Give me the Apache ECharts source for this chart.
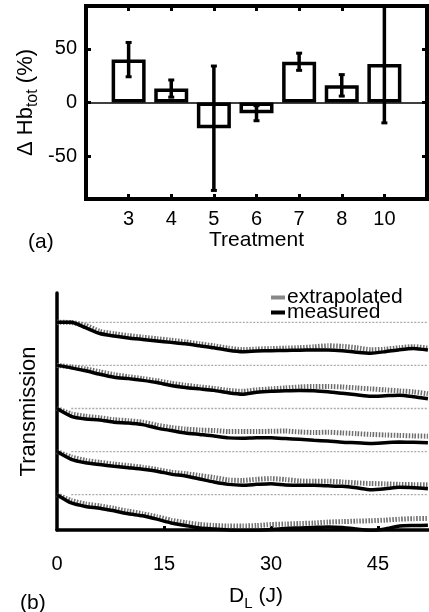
<!DOCTYPE html>
<html>
<head>
<meta charset="utf-8">
<script src="https://cdn.jsdelivr.net/npm/echarts@6/dist/echarts.min.js"></script>
<style>html,body{margin:0;padding:0;background:#fff}#c{width:429px;height:612px}</style>
</head>
<body>
<div id="c"></div>
<script>
// ---- Panel (a): change in total haemoglobin per treatment ----
const treatments = ['3', '4', '5', '6', '7', '8', '10'];
const hbChange = [40, 13, -24, -10, 38, 16, 36];   // %
const hbError = [16, 8, 58, 7, 8, 10, 55];         // %
const hbTicks = [-50, 0, 50];

// ---- Panel (b): transmission vs light dose ----
const doseJ = [0, 2, 4, 6, 8, 10, 12, 14, 16, 18, 20, 22, 24, 26, 28, 30, 32, 34, 36, 38, 40, 42, 44, 46, 48, 50, 52];
const doseTicks = [0, 15, 30, 45];
// normalised transmission, traces listed top to bottom
const meas1 = [1, 1, 0.875, 0.739, 0.682, 0.636, 0.602, 0.568, 0.534, 0.5, 0.455, 0.409, 0.352, 0.318, 0.334, 0.341, 0.348, 0.352, 0.357, 0.357, 0.341, 0.307, 0.284, 0.318, 0.364, 0.393, 0.357];
const extr1 = [1, 0.995, 0.93, 0.79, 0.735, 0.69, 0.655, 0.62, 0.585, 0.545, 0.5, 0.455, 0.4, 0.365, 0.38, 0.39, 0.4, 0.41, 0.43, 0.455, 0.443, 0.409, 0.364, 0.375, 0.41, 0.435, 0.40];
const meas2 = [1, 0.943, 0.875, 0.795, 0.727, 0.693, 0.652, 0.602, 0.534, 0.489, 0.455, 0.420, 0.364, 0.330, 0.375, 0.398, 0.409, 0.416, 0.409, 0.386, 0.352, 0.318, 0.284, 0.295, 0.307, 0.273, 0.227];
const extr2 = [1, 0.966, 0.920, 0.852, 0.784, 0.739, 0.693, 0.645, 0.585, 0.54, 0.5, 0.466, 0.420, 0.398, 0.432, 0.455, 0.477, 0.5, 0.511, 0.511, 0.5, 0.477, 0.455, 0.432, 0.409, 0.386, 0.341];
const meas3 = [1, 0.818, 0.755, 0.734, 0.682, 0.664, 0.625, 0.545, 0.489, 0.432, 0.398, 0.364, 0.318, 0.307, 0.318, 0.318, 0.302, 0.284, 0.261, 0.243, 0.216, 0.205, 0.189, 0.205, 0.220, 0.216, 0.205];
const extr3 = [1, 0.875, 0.818, 0.784, 0.739, 0.716, 0.682, 0.614, 0.557, 0.523, 0.5, 0.489, 0.466, 0.466, 0.466, 0.470, 0.477, 0.455, 0.443, 0.448, 0.432, 0.416, 0.398, 0.386, 0.375, 0.364, 0.357];
const meas4 = [1, 0.818, 0.739, 0.698, 0.659, 0.625, 0.591, 0.545, 0.477, 0.432, 0.364, 0.295, 0.239, 0.220, 0.239, 0.255, 0.227, 0.216, 0.216, 0.205, 0.193, 0.159, 0.114, 0.136, 0.170, 0.159, 0.136];
const extr4 = [1, 0.875, 0.795, 0.75, 0.709, 0.675, 0.636, 0.584, 0.523, 0.489, 0.443, 0.398, 0.341, 0.330, 0.357, 0.373, 0.352, 0.318, 0.311, 0.311, 0.295, 0.273, 0.259, 0.25, 0.239, 0.232, 0.227];
const meas5 = [1, 0.807, 0.727, 0.686, 0.625, 0.557, 0.511, 0.432, 0.341, 0.284, 0.227, 0.205, 0.182, 0.168, 0.170, 0.193, 0.216, 0.227, 0.239, 0.25, 0.239, 0.205, 0.168, 0.205, 0.273, 0.284, 0.289];
const extr5 = [1, 0.864, 0.784, 0.739, 0.682, 0.614, 0.557, 0.489, 0.409, 0.352, 0.307, 0.284, 0.273, 0.273, 0.284, 0.307, 0.318, 0.330, 0.341, 0.364, 0.375, 0.386, 0.395, 0.409, 0.432, 0.443, 0.448];
const traceOffsets = [4, 3, 2, 1, 0]; // vertical stacking of the five traces

const FONT = 'Liberation Sans, Arial, Helvetica, sans-serif';
const chart = echarts.init(document.getElementById('c'), null, {renderer: 'canvas'});

const positions = treatments.map((t, i) => i + 1);

function renderErr(params, api) {
  const x = api.value(0);
  const p1 = api.coord([x, api.value(1)]);
  const p2 = api.coord([x, api.value(2)]);
  const cs = params.coordSys;
  const top = cs.y, bot = cs.y + cs.height;
  const clamp = v => Math.min(Math.max(v, top), bot);
  const y1 = clamp(p1[1]), y2 = clamp(p2[1]);
  const children = [{type: 'line', shape: {x1: p1[0], y1: y1, x2: p1[0], y2: y2}, style: {stroke: '#000', lineWidth: 3.5}}];
  const cap = 3;
  [[p1[1], y1], [p2[1], y2]].forEach(([raw, c]) => {
    if (raw === c) children.push({type: 'line', shape: {x1: p1[0] - cap, y1: c, x2: p1[0] + cap, y2: c}, style: {stroke: '#000', lineWidth: 3}});
  });
  return {type: 'group', children: children};
}

const measured = [meas1, meas2, meas3, meas4, meas5];
const extrap = [extr1, extr2, extr3, extr4, extr5];
const traceSeries = [];
measured.forEach((m, k) => {
  const off = traceOffsets[k];
  traceSeries.push({
    type: 'line', name: 'baseline', xAxisIndex: 2, yAxisIndex: 2, silent: true,
    data: doseJ.slice(1).map(x => [x, off + 1]), symbol: 'none',
    lineStyle: {color: '#aaa', width: 1.3, type: [2, 1.5]}
  });
  traceSeries.push({
    type: 'line', name: 'extrapolated', xAxisIndex: 2, yAxisIndex: 2, smooth: 0.2,
    data: doseJ.map((x, i) => [x, off + extrap[k][i]]), symbol: 'none',
    itemStyle: {color: '#777'},
    lineStyle: {color: '#6f6f6f', width: 5, type: [1.5, 1.5]}
  });
  traceSeries.push({
    type: 'line', name: 'measured', xAxisIndex: 2, yAxisIndex: 2, smooth: 0.2,
    data: doseJ.map((x, i) => [x, off + m[i]]), symbol: 'none',
    itemStyle: {color: '#000'},
    lineStyle: {color: '#000', width: 3.5}
  });
});

const option = {
  animation: false,
  backgroundColor: '#fff',
  textStyle: {fontFamily: FONT, color: '#000'},
  title: [
    {text: '(a)', left: 23, top: 227, textStyle: {fontFamily: FONT, fontSize: 21, fontWeight: 'normal', color: '#000'}},
    {text: '(b)', left: 15, top: 588, textStyle: {fontFamily: FONT, fontSize: 21, fontWeight: 'normal', color: '#000'}}
  ],
  legend: {
    data: [
      {name: 'extrapolated', icon: 'rect', itemStyle: {color: '#888'}},
      {name: 'measured', icon: 'rect', itemStyle: {color: '#000'}}
    ],
    orient: 'vertical', left: 271, top: 287,
    itemGap: -6, itemWidth: 14, itemHeight: 4, selectedMode: false, padding: 0,
    textStyle: {fontFamily: FONT, fontSize: 21, color: '#000', padding: [0, 0, 0, -3]}
  },
  grid: [
    {left: 86, top: 6, right: 2, bottom: 413, show: true, borderColor: '#000', borderWidth: 4, backgroundColor: 'transparent'},
    {left: 57, top: 293, right: 0, bottom: 75}
  ],
  xAxis: [
    {gridIndex: 0, type: 'value', min: 0, max: treatments.length + 1,
      axisLine: {show: true, onZero: false, lineStyle: {color: '#000', width: 4}},
      axisTick: {show: true, inside: true, length: 5, customValues: positions, lineStyle: {color: '#000', width: 3}},
      axisLabel: {customValues: positions, formatter: v => treatments[v - 1] || '', fontSize: 20, color: '#000', margin: 10, fontFamily: FONT},
      splitLine: {show: false},
      name: 'Treatment', nameLocation: 'middle', nameGap: 30,
      nameTextStyle: {fontSize: 21, color: '#000', fontFamily: FONT}},
    {gridIndex: 0, type: 'value', position: 'top', min: 0, max: treatments.length + 1,
      axisLine: {show: true, onZero: false, lineStyle: {color: '#000', width: 4}},
      axisTick: {show: true, inside: true, length: 5, customValues: positions, lineStyle: {color: '#000', width: 3}},
      axisLabel: {show: false}, splitLine: {show: false}},
    {gridIndex: 1, type: 'value', min: 0, max: 52.15,
      axisLine: {show: true, onZero: false, lineStyle: {color: '#000', width: 3.5}},
      axisTick: {show: true, inside: true, length: 4, customValues: doseTicks.slice(1), lineStyle: {color: '#000', width: 3}},
      axisLabel: {customValues: doseTicks, fontSize: 20, color: '#000', margin: 24, fontFamily: FONT},
      splitLine: {show: false},
      name: '{a|D}{s|L}{a| (J)}', nameLocation: 'middle', nameGap: 52,
      nameTextStyle: {padding: [0, 0, 0, 26], rich: {
        a: {fontSize: 21, fontFamily: FONT, color: '#000'},
        s: {fontSize: 15, fontFamily: FONT, color: '#000', padding: [14, 0, 0, 0]}
      }}}
  ],
  yAxis: [
    {gridIndex: 0, type: 'value', min: -90, max: 90,
      axisLine: {show: true, onZero: false, lineStyle: {color: '#000', width: 4}},
      axisTick: {show: true, inside: true, length: 5, customValues: hbTicks, lineStyle: {color: '#000', width: 3}},
      axisLabel: {customValues: hbTicks, fontSize: 20, color: '#000', margin: 9, fontFamily: FONT},
      splitLine: {show: false},
      name: '{a|\u0394 Hb}{s|tot}{a| (%)}', nameLocation: 'middle', nameRotate: 90, nameGap: 45,
      nameMoveOverlap: false,
      nameTextStyle: {rich: {
        a: {fontSize: 22, fontFamily: FONT, color: '#000'},
        s: {fontSize: 16, fontFamily: FONT, color: '#000', padding: [14, 0, 0, 0]}
      }}},
    {gridIndex: 0, type: 'value', position: 'right', min: -90, max: 90,
      axisLine: {show: true, onZero: false, lineStyle: {color: '#000', width: 4}},
      axisTick: {show: true, inside: true, length: 5, customValues: hbTicks, lineStyle: {color: '#000', width: 3}},
      axisLabel: {show: false}, splitLine: {show: false}},
    {gridIndex: 1, type: 'value', min: 0.18, max: 5.68,
      axisLine: {show: true, onZero: false, lineStyle: {color: '#000', width: 3.5}},
      axisTick: {show: false}, axisLabel: {show: false}, splitLine: {show: false},
      name: 'Transmission', nameLocation: 'middle', nameRotate: 90, nameGap: 17,
      nameTextStyle: {fontSize: 22, color: '#000', fontFamily: FONT}}
  ],
  series: [
    {type: 'bar', xAxisIndex: 0, yAxisIndex: 0, barWidth: 34,
      data: treatments.map((t, i) => [i + 1, hbChange[i]]),
      itemStyle: {color: '#fff', borderColor: '#000', borderWidth: 3.5},
      markLine: {silent: true, symbol: 'none', label: {show: false},
        lineStyle: {color: '#000', width: 1.5, type: 'solid'}, data: [{yAxis: 0}]}},
    {type: 'custom', xAxisIndex: 0, yAxisIndex: 0, renderItem: renderErr,
      data: treatments.map((t, i) => [i + 1, hbChange[i] - hbError[i], hbChange[i] + hbError[i]]), z: 5}
  ].concat(traceSeries)
};
chart.setOption(option);
</script>
</body>
</html>
